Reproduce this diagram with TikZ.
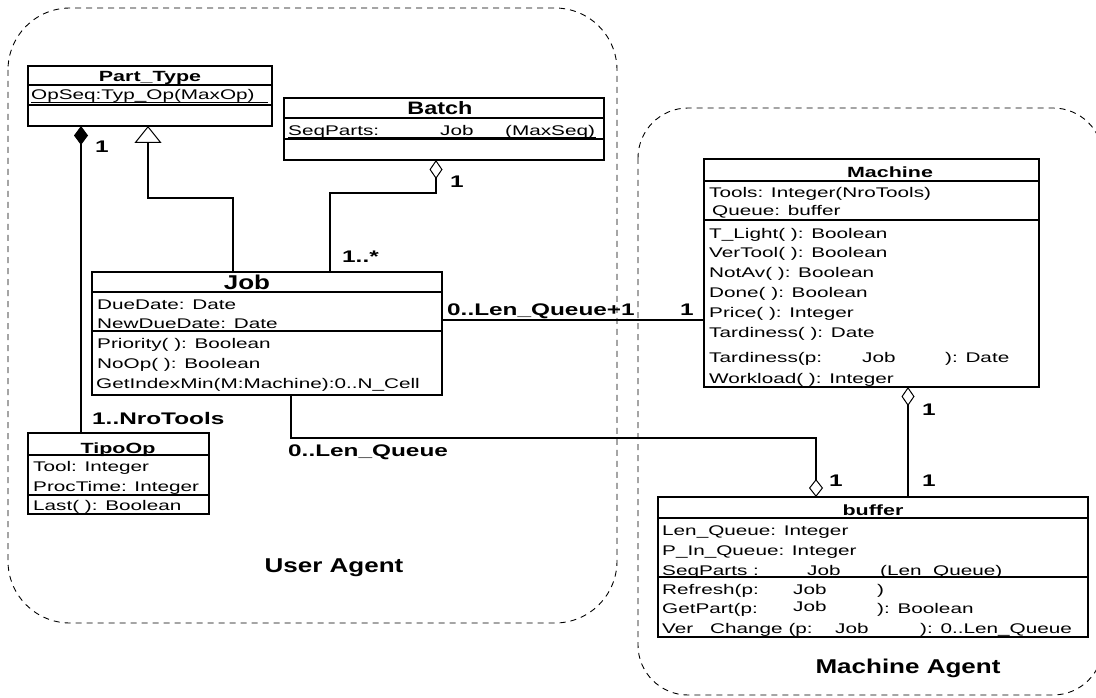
\documentclass[tikz,border=0pt]{standalone}
\usepackage{fontspec}
\setmainfont{Liberation Sans}
\newfontfamily\bodyf{Liberation Sans}[FakeStretch=1.48]
\newfontfamily\lblf{Liberation Sans}[FakeStretch=1.45]
\newfontfamily\bigf{Liberation Sans}[FakeStretch=1.3]
\usetikzlibrary{arrows.meta}

\begin{document}
\begin{tikzpicture}[x=1pt,y=-1pt,
  cls/.style={draw, line width=1.1pt, inner sep=0pt, outer sep=0pt, anchor=north west},
  sepline/.style={line width=1.1pt},
  txt/.style={anchor=base west, inner sep=0pt, font=\bodyf\fontsize{14}{16}\selectfont},
  ttl/.style={anchor=base, inner sep=0pt, font=\lblf\bfseries\fontsize{14.8}{17}\selectfont},
  bigttl/.style={anchor=base, inner sep=0pt, font=\bigf\bfseries\fontsize{20}{22}\selectfont},
  mult/.style={anchor=base west, inner sep=0pt, font=\lblf\bfseries\fontsize{16.8}{19}\selectfont},
  conn/.style={line width=1.1pt},
  agg/.style={conn, {Diamond[open,length=19pt,width=13pt,line width=1pt]}-},
  aggend/.style={conn, -{Diamond[open,length=18pt,width=14pt,line width=1pt]}},
  comp/.style={conn, {Diamond[length=19pt,width=14pt]}-},
  gen/.style={conn, {Triangle[open,length=17pt,width=27pt,line width=1pt]}-},
  region/.style={line width=0.9pt, dash pattern=on 6pt off 5pt},
]
\useasboundingbox (0,0) rectangle (1096,698);

% agent regions
\draw[region, rounded corners=62pt] (8,8) rectangle (617,623);
\draw[region, rounded corners=50pt] (638,108) rectangle (1103,695);
\node[bigttl] (ualbl) at (334,572) {User Agent};
\node[bigttl] (malbl) at (908,673) {Machine Agent};

% ---- Part_Type
\node[cls, minimum width=244pt, minimum height=60pt] (pt) at (28,66) {};
\draw[sepline] ([yshift=-19pt]pt.north west) -- ([yshift=-19pt]pt.north east);
\draw[sepline] ([yshift=-39pt]pt.north west) -- ([yshift=-39pt]pt.north east);
\node[ttl] (ptT) at (150,82) {Part\_Type};
\node[txt] (ptA) at (31,100) {OpSeq:Typ\_Op(MaxOp)};
\draw[line width=0.8pt] (ptA.base west) ++(0,2.5) -- ++(237,0);

% ---- Batch
\node[cls, minimum width=320pt, minimum height=62pt] (batch) at (284,98) {};
\draw[sepline] ([yshift=-20pt]batch.north west) -- ([yshift=-20pt]batch.north east);
\draw[sepline] ([yshift=-41pt]batch.north west) -- ([yshift=-41pt]batch.north east);
\node[bigttl, font=\bigf\bfseries\fontsize{18}{20}\selectfont] (batchT) at (440,115) {Batch};
\node[txt] (bA1) at (288,135.5) {SeqParts:};
\node[txt] (bA2) at (440,135.5) {Job};
\node[txt] (bA3) at (505,135.5) {(MaxSeq)};
\draw[line width=0.8pt] (bA1.base west) ++(0,2) -- ++(308,0);

% ---- Job
\node[cls, minimum width=350pt, minimum height=123pt] (job) at (92,272) {};
\draw[sepline] ([yshift=-20pt]job.north west) -- ([yshift=-20pt]job.north east);
\draw[sepline] ([yshift=-59pt]job.north west) -- ([yshift=-59pt]job.north east);
\node[bigttl] (jobT) at (247,289) {Job};
\node[txt] (j1) at (97,309) {DueDate: Date};
\node[txt] (j2) at (97,328.5) {NewDueDate: Date};
\node[txt] (j3) at (97,348) {Priority( ): Boolean};
\node[txt] (j4) at (97,368) {NoOp( ): Boolean};
\node[txt] (j5) at (96,388) {GetIndexMin(M:Machine):0..N\_Cell};

% ---- TipoOp
\node[cls, minimum width=181pt, minimum height=81pt] (tipo) at (28,433) {};
\draw[sepline] ([yshift=-22pt]tipo.north west) -- ([yshift=-22pt]tipo.north east);
\draw[sepline] ([yshift=-62pt]tipo.north west) -- ([yshift=-62pt]tipo.north east);
\node[ttl] (tipoT) at (118,453) {TipoOp};
\node[txt] (t1) at (33,471) {Tool: Integer};
\node[txt] (t2) at (33,491) {ProcTime: Integer};
\node[txt] (t3) at (33,510) {Last( ): Boolean};

% ---- Machine
\node[cls, minimum width=335pt, minimum height=228pt] (mach) at (704,159) {};
\draw[sepline] ([yshift=-22pt]mach.north west) -- ([yshift=-22pt]mach.north east);
\draw[sepline] ([yshift=-61pt]mach.north west) -- ([yshift=-61pt]mach.north east);
\node[ttl] (machT) at (890,178) {Machine};
\node[txt] (m1) at (709,198) {Tools: Integer(NroTools)};
\node[txt] (m2) at (712,215) {Queue: buffer};
\node[txt] (m3) at (709,238) {T\_Light( ): Boolean};
\node[txt] (m4) at (709,257) {VerTool( ): Boolean};
\node[txt] (m5) at (709,277) {NotAv( ): Boolean};
\node[txt] (m6) at (709,297) {Done( ): Boolean};
\node[txt] (m7) at (709,317) {Price( ): Integer};
\node[txt] (m8) at (709,337) {Tardiness( ): Date};
\node[txt] (m9a) at (709,362) {Tardiness(p:};
\node[txt] (m9b) at (862,362) {Job};
\node[txt] (m9c) at (945,362) {): Date};
\node[txt] (m10) at (709,383) {Workload( ): Integer};

% ---- buffer
\node[cls, minimum width=430pt, minimum height=140pt] (buf) at (658,497) {};
\draw[sepline] ([yshift=-21pt]buf.north west) -- ([yshift=-21pt]buf.north east);
\draw[sepline] ([yshift=-80pt]buf.north west) -- ([yshift=-80pt]buf.north east);
\node[ttl] (bufT) at (873,515) {buffer};
\node[txt] (u1) at (662,535) {Len\_Queue: Integer};
\node[txt] (u2) at (662,555) {P\_In\_Queue: Integer};
\node[txt] (u3a) at (662,575) {SeqParts :};
\node[txt] (u3b) at (807,575) {Job};
\node[txt] (u3c) at (880,575) {(Len\_Queue)};
\node[txt] (u4a) at (662,594) {Refresh(p:};
\node[txt] (u4b) at (793,594) {Job};
\node[txt] (u4c) at (877,594) {)};
\node[txt] (u5a) at (662,613) {GetPart(p:};
\node[txt] (u5b) at (793,611) {Job};
\node[txt] (u5c) at (877,613) {): Boolean};
\node[txt] (u6a) at (662,633) {Ver};
\node[txt] (u6b) at (710,633) {Change (p:};
\node[txt] (u6c) at (835,633) {Job};
\node[txt] (u6d) at (920,633) {): 0..Len\_Queue};

% ---- connectors
\draw[comp] (pt.south -| 81,0) -- (tipo.north -| 81,0);
\draw[gen] (pt.south -| 148,0) -- (148,198) -| (job.north -| 233,0);
\draw[agg] (batch.south -| 436,0) -- (436,193) -| (job.north -| 330,0);
\draw[conn] (job.east |- 0,320) -- (mach.west |- 0,320);
\draw[aggend] (job.south -| 291,0) -- (291,438) -| (buf.north -| 816,0);
\draw[agg] (mach.south -| 908,0) -- (buf.north -| 908,0);

% ---- multiplicities
\node[mult] (mc1) at (95,153) {1};
\node[mult] (mc2) at (92,424) {1..NroTools};
\node[mult] (mb1) at (450,188) {1};
\node[mult] (mb2) at (342,262) {1..*};
\node[mult] (mj1) at (447,315) {0..Len\_Queue+1};
\node[mult] (mj2) at (680,315) {1};
\node[mult] (mq1) at (288,456) {0..Len\_Queue};
\node[mult] (mq2) at (829,486) {1};
\node[mult] (mm1) at (922,415) {1};
\node[mult] (mm2) at (922,486) {1};
\end{tikzpicture}
\end{document}
